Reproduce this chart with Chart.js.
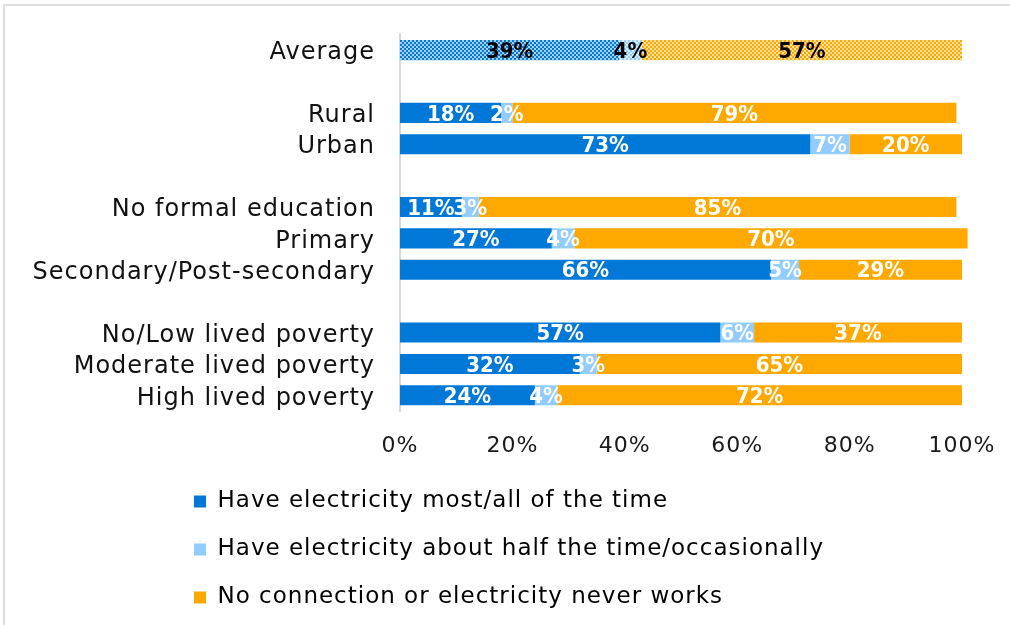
<!DOCTYPE html>
<html>
<head>
<meta charset="utf-8">
<script src="https://cdn.jsdelivr.net/npm/chart.js@4/dist/chart.umd.min.js"></script>
<style>
  html, body { margin: 0; padding: 0; background: #fff; overflow: hidden; }
  .wrap { position: relative; width: 1010px; height: 625px; }
  canvas { display: block; }
</style>
</head>
<body>
<div class="wrap">
  <canvas id="chart"></canvas>
</div>
<script>
// groups separated by empty rows
const categories = [
  "Average", "",
  "Rural", "Urban", "",
  "No formal education", "Primary", "Secondary/Post-secondary", "",
  "No/Low lived poverty", "Moderate lived poverty", "High lived poverty"
];
const seriesNames = [
  "Have electricity most/all of the time",
  "Have electricity about half the time/occasionally",
  "No connection or electricity never works"
];
const mostAll = [39, null, 18, 73, null, 11, 27, 66, null, 57, 32, 24];
const halfTime = [4, null, 2, 7, null, 3, 4, 5, null, 6, 3, 4];
const never = [57, null, 79, 20, null, 85, 70, 29, null, 37, 65, 72];
const xTicks = [0, 20, 40, 60, 80, 100];

const colors = ["#0078d7", "#93cdff", "#ffa800"];
const FONT = "'DejaVu Sans', sans-serif";

// checker fill used for the Average row
function checker(color) {
  const c = document.createElement("canvas");
  c.width = 4; c.height = 4;
  const g = c.getContext("2d");
  g.fillStyle = "#ffffff";
  g.fillRect(0, 0, 4, 4);
  g.fillStyle = color;
  g.fillRect(0, 0, 2, 2);
  g.fillRect(2, 2, 2, 2);
  g.globalAlpha = 0.35;
  g.fillRect(2, 0, 2, 2);
  g.fillRect(0, 2, 2, 2);
  return g.createPattern(c, "repeat");
}

function fills(color) {
  return categories.map((c, i) => (i === 0 ? checker(color) : color));
}

// thin grey frame on top and left, wider letters for the axis/legend text
const frame = {
  id: "frame",
  beforeDraw(chart) {
    const ctx = chart.ctx;
    ctx.save();
    ctx.strokeStyle = "#dedede";
    ctx.lineWidth = 2;
    ctx.beginPath();
    ctx.moveTo(4, chart.height);
    ctx.lineTo(4, 5);
    ctx.lineTo(chart.width, 5);
    ctx.stroke();
    ctx.restore();
    ctx.letterSpacing = "1px";
    chart.legend.left = 169;
  }
};

const valueLabels = {
  id: "valueLabels",
  afterDatasetsDraw(chart) {
    const ctx = chart.ctx;
    ctx.save();
    ctx.letterSpacing = "0px";
    ctx.font = "bold 22px 'DejaVu Sans Condensed', 'DejaVu Sans', sans-serif";
    ctx.textAlign = "center";
    ctx.textBaseline = "middle";
    chart.data.datasets.forEach((ds, di) => {
      const meta = chart.getDatasetMeta(di);
      meta.data.forEach((bar, i) => {
        const v = ds.data[i];
        if (v == null) return;
        const p = bar.getCenterPoint();
        ctx.fillStyle = i === 0 ? "#000000" : "#ffffff";
        ctx.fillText(v + "%", p.x, p.y + 2);
      });
    });
    ctx.restore();
  }
};

new Chart(document.getElementById("chart"), {
  type: "bar",
  data: {
    labels: categories,
    datasets: [
      { label: seriesNames[0], data: mostAll, backgroundColor: fills(colors[0]) },
      { label: seriesNames[1], data: halfTime, backgroundColor: fills(colors[1]) },
      { label: seriesNames[2], data: never, backgroundColor: fills(colors[2]) }
    ]
  },
  options: {
    indexAxis: "y",
    responsive: true,
    maintainAspectRatio: false,
    animation: false,
    datasets: { bar: { barPercentage: 0.8, categoryPercentage: 0.8, clip: false } },
    layout: { padding: { top: 34.4, right: 48, bottom: 6, left: 0 } },
    scales: {
      x: {
        stacked: true,
        min: 0,
        max: 100,
        afterBuildTicks: (scale) => { scale.ticks = xTicks.map((v) => ({ value: v })); },
        afterFit: (scale) => {
          scale.height = 54;
          scale.paddingLeft = 0;
          scale.paddingRight = 0;
        },
        grid: { display: false, drawTicks: false },
        border: { display: false },
        ticks: {
          padding: 22,
          color: "#1a1a1a",
          font: { family: FONT, size: 22 },
          callback: (v) => v + "%"
        }
      },
      y: {
        stacked: true,
        afterFit: (scale) => {
          scale.width = 400;
          scale.paddingTop = 0;
          scale.paddingBottom = 0;
        },
        grid: { display: false, drawTicks: false },
        border: { display: true, color: "#d9d9d9", width: 2 },
        ticks: {
          autoSkip: false,
          padding: 25,
          labelOffset: 3,
          color: "#111111",
          font: { family: FONT, size: 24 }
        }
      }
    },
    plugins: {
      tooltip: { enabled: false },
      legend: {
        position: "bottom",
        align: "start",
        labels: {
          boxWidth: 12,
          boxHeight: 12,
          padding: 25,
          color: "#111111",
          font: { family: FONT, size: 23 },
          generateLabels: (chart) => chart.data.datasets.map((ds, i) => ({
            text: ds.label,
            fillStyle: colors[i],
            strokeStyle: colors[i],
            lineWidth: 0,
            datasetIndex: i
          }))
        }
      }
    }
  },
  plugins: [frame, valueLabels]
});
</script>
</body>
</html>
